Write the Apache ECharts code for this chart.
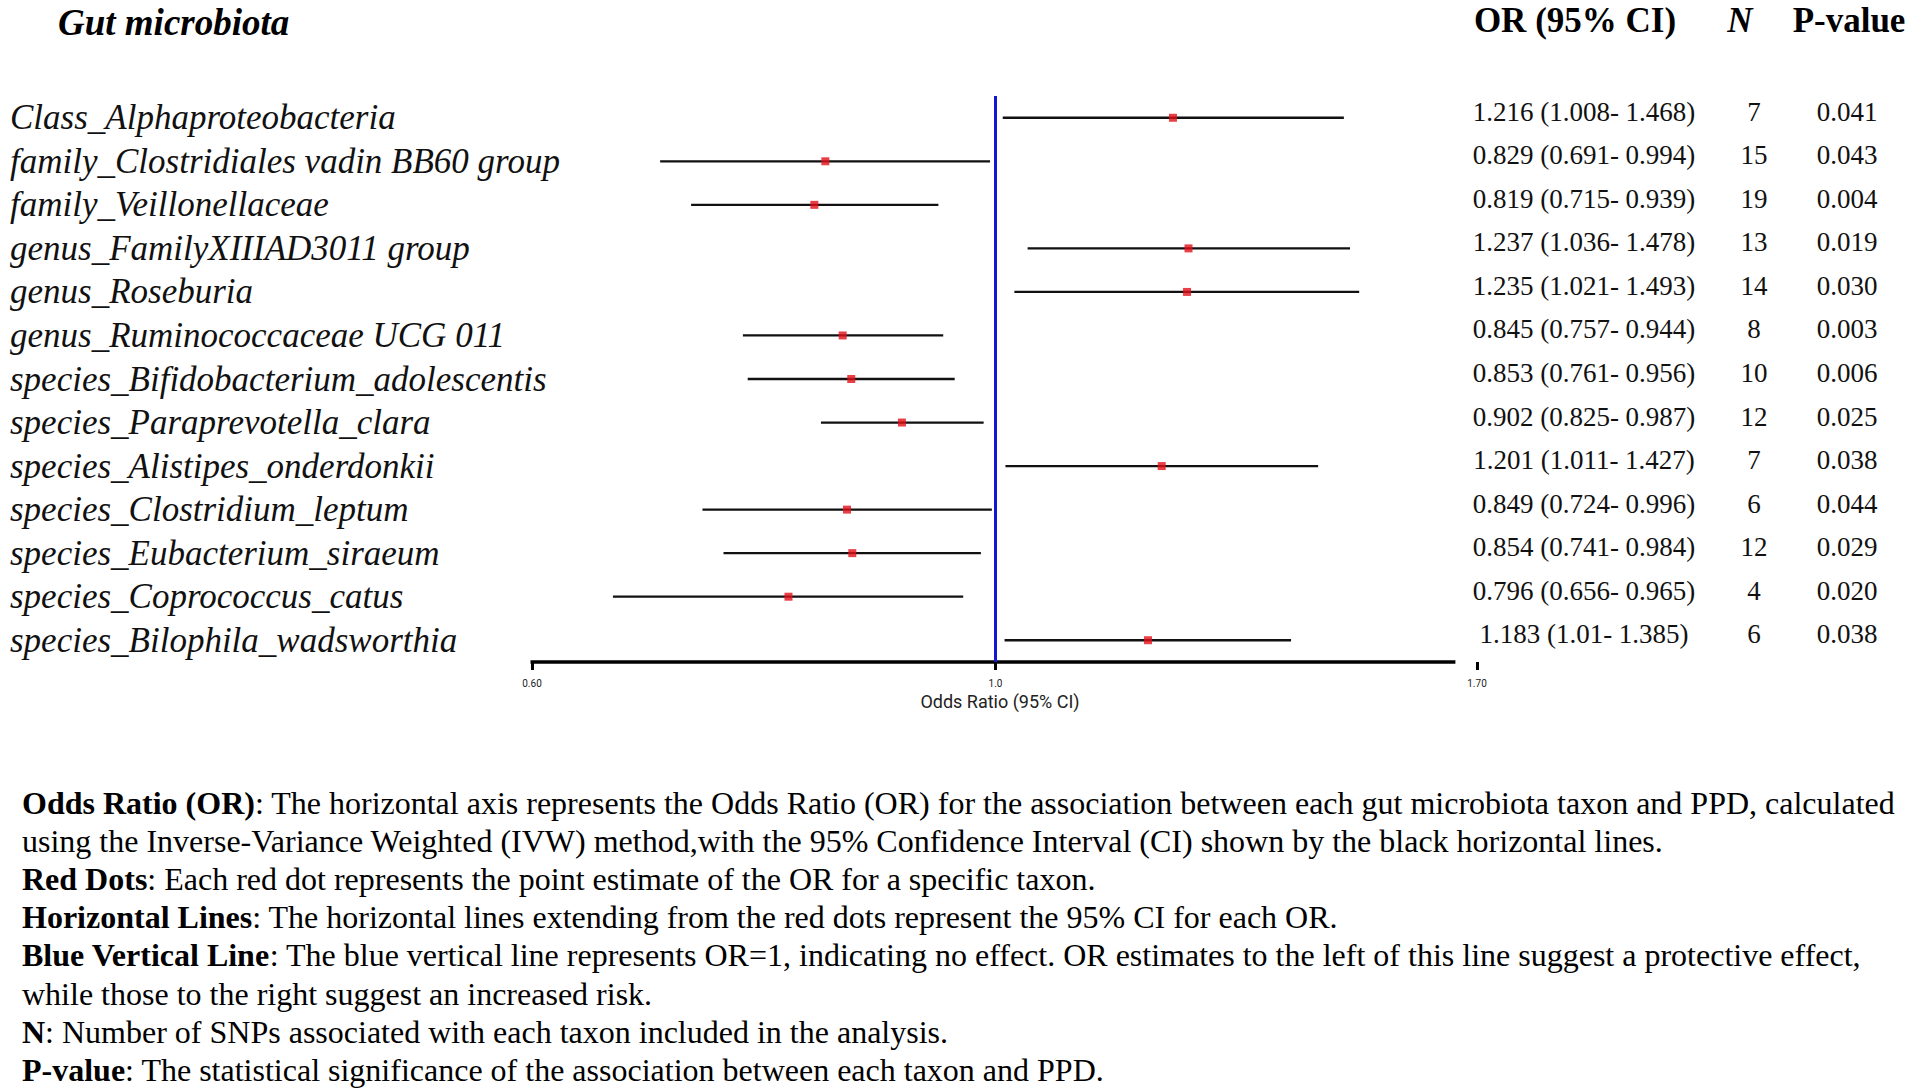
<!DOCTYPE html>
<html>
<head>
<meta charset="utf-8">
<script src="https://cdn.jsdelivr.net/npm/echarts@6/dist/echarts.min.js"></script>
<style>
html,body{margin:0;padding:0;background:#ffffff;}
#chart{width:1908px;height:1089px;}
</style>
</head>
<body>
<div id="chart"></div>
<script>
// ---------------- data ----------------
const taxa = [
  'Class_Alphaproteobacteria',
  'family_Clostridiales vadin BB60 group',
  'family_Veillonellaceae',
  'genus_FamilyXIIIAD3011 group',
  'genus_Roseburia',
  'genus_Ruminococcaceae UCG 011',
  'species_Bifidobacterium_adolescentis',
  'species_Paraprevotella_clara',
  'species_Alistipes_onderdonkii',
  'species_Clostridium_leptum',
  'species_Eubacterium_siraeum',
  'species_Coprococcus_catus',
  'species_Bilophila_wadsworthia'
];
const orValues = [1.216, 0.829, 0.819, 1.237, 1.235, 0.845, 0.853, 0.902, 1.201, 0.849, 0.854, 0.796, 1.183];
const ciLower  = [1.008, 0.691, 0.715, 1.036, 1.021, 0.757, 0.761, 0.825, 1.011, 0.724, 0.741, 0.656, 1.01];
const ciUpper  = [1.468, 0.994, 0.939, 1.478, 1.493, 0.944, 0.956, 0.987, 1.427, 0.996, 0.984, 0.965, 1.385];
const orText = [
  '1.216 (1.008- 1.468)', '0.829 (0.691- 0.994)', '0.819 (0.715- 0.939)',
  '1.237 (1.036- 1.478)', '1.235 (1.021- 1.493)', '0.845 (0.757- 0.944)',
  '0.853 (0.761- 0.956)', '0.902 (0.825- 0.987)', '1.201 (1.011- 1.427)',
  '0.849 (0.724- 0.996)', '0.854 (0.741- 0.984)', '0.796 (0.656- 0.965)',
  '1.183 (1.01- 1.385)'
];
const nSnps = [7, 15, 19, 13, 14, 8, 10, 12, 7, 6, 12, 4, 6];
const pValues = ['0.041','0.043','0.004','0.019','0.030','0.003','0.006','0.025','0.038','0.044','0.029','0.020','0.038'];
const xTicks = [0.6, 1.0, 1.7];
const xTickLabels = ['0.60', '1.0', '1.70'];
const xRange = [0.6, 1.7];
const axisLineRange = [0.6, 1.66];
const nullEffect = 1;
const titleText = 'Gut microbiota';
const headerOR = 'OR (95% CI)';
const headerN = 'N';
const headerP = 'P-value';
const axisTitle = 'Odds Ratio (95% CI)';
const notes = [
  ['Odds Ratio (OR)', ': The horizontal axis represents the Odds Ratio (OR) for the association between each gut microbiota taxon and PPD, calculated'],
  ['', 'using the Inverse-Variance Weighted (IVW) method,with the 95% Confidence Interval (CI) shown by the black horizontal lines.'],
  ['Red Dots', ': Each red dot represents the point estimate of the OR for a specific taxon.'],
  ['Horizontal Lines', ': The horizontal lines extending from the red dots represent the 95% CI for each OR.'],
  ['Blue Vertical Line', ': The blue vertical line represents OR=1, indicating no effect. OR estimates to the left of this line suggest a protective effect,'],
  ['', 'while those to the right suggest an increased risk.'],
  ['N', ': Number of SNPs associated with each taxon included in the analysis.'],
  ['P-value', ': The statistical significance of the association between each taxon and PPD.']
];

// ---------------- chart ----------------
const SERIF = "'Liberation Serif','Times New Roman',Times,serif";
const SANS = "Roboto,'Open Sans',sans-serif";
const lastIdx = taxa.length - 1;

const ciData = taxa.map((t, i) => [ciLower[i], i, ciUpper[i]]);
const dotData = taxa.map((t, i) => [orValues[i], i]);

const graphics = [];
graphics.push({
  type: 'text', x: 58, y: 22,
  style: { text: titleText, fontFamily: SERIF, fontSize: 37, fontWeight: 'bold', fontStyle: 'italic', fill: '#000',
           align: 'left', verticalAlign: 'middle' }
});
function headerText(txt, cx, italic) {
  return {
    type: 'text', x: cx, y: 20,
    style: { text: txt, fontFamily: SERIF, fontSize: 35, fontWeight: 'bold', fontStyle: italic ? 'italic' : 'normal',
             fill: '#000', align: 'center', verticalAlign: 'middle' }
  };
}
graphics.push(headerText(headerOR, 1575, false));
graphics.push(headerText(headerN, 1740, true));
graphics.push(headerText(headerP, 1849, false));

notes.forEach((ln, i) => {
  const txt = (ln[0] ? '{b|' + ln[0] + '}' : '') + '{r|' + ln[1] + '}';
  graphics.push({
    type: 'text', x: 22, y: 803 + i * 38.1,
    style: {
      text: txt, verticalAlign: 'middle', align: 'left',
      fontFamily: SERIF, fontSize: 32, fill: '#000',
      rich: {
        b: { fontFamily: SERIF, fontSize: 32, fontWeight: 'bold', fill: '#000' },
        r: { fontFamily: SERIF, fontSize: 32, fill: '#000' }
      }
    }
  });
});

const chart = echarts.init(document.getElementById('chart'), null, { renderer: 'svg' });

function rightAxis(formatter, margin) {
  return {
    type: 'category', data: taxa, inverse: true, position: 'right', offset: 0,
    axisLine: { show: false }, axisTick: { show: false }, splitLine: { show: false },
    axisLabel: {
      interval: 0, formatter: formatter, align: 'center', margin: margin,
      fontFamily: SERIF, fontSize: 27, color: '#111',
      verticalAlign: 'bottom', lineHeight: 12
    }
  };
}

chart.setOption({
  animation: false,
  backgroundColor: '#ffffff',
  grid: { left: 532, right: 431, top: 96, bottom: 427, containLabel: false, outerBoundsMode: 'none' },
  xAxis: [
    {
      type: 'log', logBase: 10, min: xRange[0], max: xRange[1],
      axisLine: { show: false }, axisTick: { show: false }, axisLabel: { show: false }, splitLine: { show: false }
    },
    {
      type: 'value', min: Math.log(xRange[0]), max: Math.log(xRange[1]), position: 'bottom',
      axisLine: { show: false },
      axisTick: { show: true, customValues: xTicks.map(v => Math.log(v)), length: 8, lineStyle: { color: '#000', width: 3 } },
      axisLabel: {
        customValues: xTicks.map(v => Math.log(v)),
        formatter: function (v) {
          for (let i = 0; i < xTicks.length; i++) {
            if (Math.abs(Math.log(xTicks[i]) - v) < 1e-6) return xTickLabels[i];
          }
          return '';
        },
        fontFamily: SANS, fontSize: 10, color: '#222', margin: 16
      },
      splitLine: { show: false },
      name: axisTitle, nameLocation: 'middle', nameGap: 29,
      nameTextStyle: { fontFamily: SANS, fontSize: 18, color: '#222', padding: [0, 9, 0, 0] }
    }
  ],
  yAxis: [
    {
      type: 'category', data: taxa, inverse: true, position: 'left',
      axisLine: { show: false }, axisTick: { show: false }, splitLine: { show: false },
      axisLabel: {
        interval: 0, align: 'left', margin: 522,
        fontFamily: SERIF, fontStyle: 'italic', fontSize: 35, color: '#111'
      }
    },
    rightAxis((v, i) => orText[i], 107),
    rightAxis((v, i) => String(nSnps[i]), 277),
    rightAxis((v, i) => pValues[i], 370)
  ],
  series: [
    {
      type: 'custom', name: 'axisLine', xAxisIndex: 0, yAxisIndex: 0, silent: true, z: 3,
      data: [[axisLineRange[0], lastIdx, axisLineRange[1]]],
      encode: { x: [0, 2], y: 1 },
      renderItem: function (params, api) {
        const p0 = api.coord([api.value(0), api.value(1)]);
        const p1 = api.coord([api.value(2), api.value(1)]);
        const half = api.size([0, 1])[1] / 2;
        const y = p0[1] + half;
        return { type: 'line', shape: { x1: p0[0] - 1.5, y1: y, x2: p1[0], y2: y }, style: { stroke: '#000', lineWidth: 3.5 } };
      }
    },
    {
      type: 'custom', name: 'CI', xAxisIndex: 0, yAxisIndex: 0, silent: true, z: 2,
      data: ciData,
      encode: { x: [0, 2], y: 1 },
      renderItem: function (params, api) {
        const a = api.coord([api.value(0), api.value(1)]);
        const b = api.coord([api.value(2), api.value(1)]);
        return { type: 'line', shape: { x1: a[0], y1: a[1], x2: b[0], y2: b[1] }, style: { stroke: '#111', lineWidth: 2.3 } };
      }
    },
    {
      type: 'scatter', name: 'OR', xAxisIndex: 0, yAxisIndex: 0, z: 5,
      data: dotData, symbol: 'rect', symbolSize: 8,
      itemStyle: { color: '#e3101a' },
      markLine: {
        silent: true, symbol: ['none', 'none'], label: { show: false },
        lineStyle: { color: '#1414d2', width: 3, type: 'solid' },
        data: [{ xAxis: nullEffect }]
      }
    }
  ],
  graphic: graphics
});
</script>
</body>
</html>
